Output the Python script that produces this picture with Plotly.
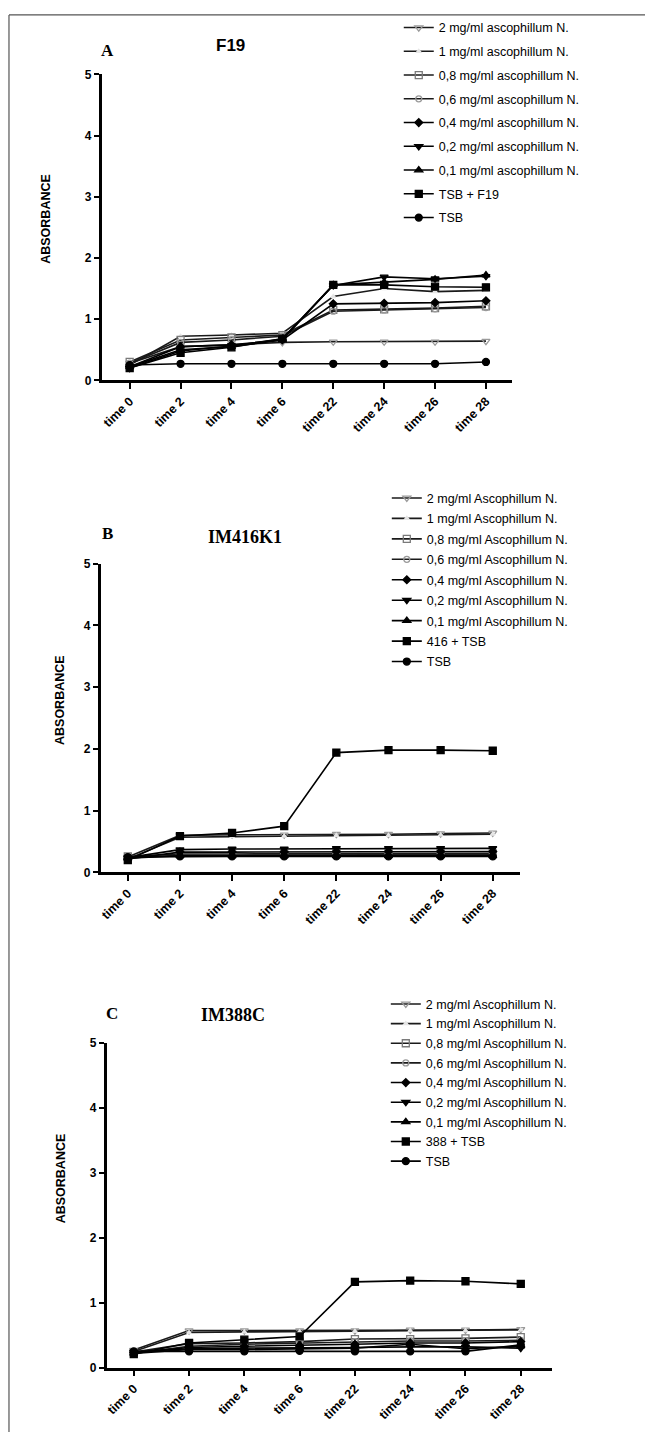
import plotly.graph_objects as go

W, H = 645, 1439

times = ["time 0", "time 2", "time 4", "time 6", "time 22", "time 24", "time 26", "time 28"]

# ---- Panel A : F19 ----
a_names = ["2 mg/ml ascophillum N.", "1 mg/ml ascophillum N.", "0,8 mg/ml ascophillum N.",
           "0,6 mg/ml ascophillum N.", "0,4 mg/ml ascophillum N.", "0,2 mg/ml ascophillum N.",
           "0,1 mg/ml ascophillum N.", "TSB + F19", "TSB"]
a_2mg = [0.28, 0.55, 0.58, 0.62, 0.63, 0.63, 0.63, 0.64]
a_1mg = [0.25, 0.72, 0.74, 0.77, 1.37, 1.50, 1.45, 1.47]
a_08 = [0.30, 0.66, 0.70, 0.74, 1.15, 1.16, 1.18, 1.21]
a_06 = [0.28, 0.62, 0.66, 0.72, 1.13, 1.15, 1.17, 1.19]
a_04 = [0.22, 0.55, 0.58, 0.66, 1.25, 1.26, 1.27, 1.30]
a_02 = [0.20, 0.48, 0.56, 0.68, 1.55, 1.69, 1.66, 1.70]
a_01 = [0.22, 0.50, 0.55, 0.66, 1.56, 1.60, 1.65, 1.72]
a_ctrl = [0.20, 0.45, 0.54, 0.68, 1.56, 1.56, 1.53, 1.52]
a_tsb = [0.25, 0.27, 0.27, 0.27, 0.27, 0.27, 0.27, 0.30]

# ---- Panel B : IM416K1 ----
b_names = ["2 mg/ml Ascophillum N.", "1 mg/ml Ascophillum N.", "0,8 mg/ml Ascophillum N.",
           "0,6 mg/ml Ascophillum N.", "0,4 mg/ml Ascophillum N.", "0,2 mg/ml Ascophillum N.",
           "0,1 mg/ml Ascophillum N.", "416 + TSB", "TSB"]
b_2mg = [0.25, 0.60, 0.61, 0.61, 0.62, 0.62, 0.63, 0.64]
b_1mg = [0.22, 0.57, 0.58, 0.59, 0.60, 0.60, 0.61, 0.62]
b_08 = [0.26, 0.30, 0.30, 0.30, 0.31, 0.31, 0.31, 0.31]
b_06 = [0.24, 0.28, 0.28, 0.28, 0.29, 0.29, 0.29, 0.29]
b_04 = [0.22, 0.33, 0.33, 0.33, 0.34, 0.34, 0.34, 0.34]
b_02 = [0.24, 0.37, 0.38, 0.38, 0.39, 0.39, 0.39, 0.39]
b_01 = [0.23, 0.27, 0.27, 0.27, 0.27, 0.27, 0.27, 0.27]
b_ctrl = [0.20, 0.59, 0.64, 0.75, 1.94, 1.98, 1.98, 1.97]
b_tsb = [0.25, 0.26, 0.26, 0.26, 0.26, 0.26, 0.26, 0.26]

# ---- Panel C : IM388C ----
c_names = ["2 mg/ml Ascophillum N.", "1 mg/ml Ascophillum N.", "0,8 mg/ml Ascophillum N.",
           "0,6 mg/ml Ascophillum N.", "0,4 mg/ml Ascophillum N.", "0,2 mg/ml Ascophillum N.",
           "0,1 mg/ml Ascophillum N.", "388 + TSB", "TSB"]
c_2mg = [0.27, 0.57, 0.57, 0.57, 0.57, 0.58, 0.58, 0.59]
c_1mg = [0.25, 0.54, 0.55, 0.55, 0.56, 0.57, 0.57, 0.58]
c_08 = [0.24, 0.37, 0.38, 0.40, 0.44, 0.44, 0.45, 0.47]
c_06 = [0.22, 0.33, 0.36, 0.38, 0.40, 0.41, 0.41, 0.42]
c_04 = [0.23, 0.31, 0.33, 0.34, 0.36, 0.38, 0.38, 0.40]
c_02 = [0.24, 0.29, 0.30, 0.30, 0.31, 0.32, 0.32, 0.30]
c_01 = [0.22, 0.28, 0.28, 0.29, 0.30, 0.36, 0.29, 0.33]
c_ctrl = [0.21, 0.38, 0.43, 0.48, 1.32, 1.34, 1.33, 1.29]
c_tsb = [0.25, 0.25, 0.25, 0.26, 0.25, 0.25, 0.25, 0.35]

# marker styles per series (same order in every panel)
styles = [
    dict(symbol="triangle-down-open", color="#9a9a9a", size=7, line="#1a1a1a"),
    dict(symbol="triangle-up", color="#e6e6e6", size=4, line="#1a1a1a"),
    dict(symbol="square-open", color="#7a7a7a", size=7, line="#1a1a1a"),
    dict(symbol="circle-open", color="#9a9a9a", size=6, line="#1a1a1a"),
    dict(symbol="diamond", color="#000000", size=6, line="#000000"),
    dict(symbol="triangle-down", color="#000000", size=7, line="#000000"),
    dict(symbol="triangle-up", color="#000000", size=7, line="#000000"),
    dict(symbol="square", color="#000000", size=7, line="#000000"),
    dict(symbol="circle", color="#000000", size=7, line="#000000"),
]

panels = [
    dict(names=a_names, series=[a_2mg, a_1mg, a_08, a_06, a_04, a_02, a_01, a_ctrl, a_tsb],
         xdom=(100, 512), ybot=377, ytop=68, xr=(-0.55, 7.52), legend="legend"),
    dict(names=b_names, series=[b_2mg, b_1mg, b_08, b_06, b_04, b_02, b_01, b_ctrl, b_tsb],
         xdom=(99, 520), ybot=874, ytop=562, xr=(-0.52, 7.53), legend="legend2"),
    dict(names=c_names, series=[c_2mg, c_1mg, c_08, c_06, c_04, c_02, c_01, c_ctrl, c_tsb],
         xdom=(105, 552), ybot=1374, ytop=1046, xr=(-0.49, 7.57), legend="legend3"),
]

fig = go.Figure()
font_sans = "Liberation Sans, Arial, sans-serif"
font_serif = "Liberation Serif, Times New Roman, serif"

for i, p in enumerate(panels):
    xa = "x" if i == 0 else f"x{i+1}"
    ya = "y" if i == 0 else f"y{i+1}"
    for k, (name, vals, st) in enumerate(zip(p["names"], p["series"], styles)):
        fig.add_trace(go.Scatter(
            x=times, y=vals, name=name, mode="lines+markers",
            xaxis=xa, yaxis=ya, legend=p["legend"], legendgroup=f"p{i}s{k}",
            line=dict(color=st["line"], width=1.6),
            marker=dict(symbol=st["symbol"], color=st["color"], size=st["size"],
                        line=dict(color=st["color"], width=1.3)),
        ))
    axkey = "xaxis" if i == 0 else f"xaxis{i+1}"
    aykey = "yaxis" if i == 0 else f"yaxis{i+1}"
    fig.update_layout(**{
        axkey: dict(domain=[p["xdom"][0] / W, p["xdom"][1] / W], anchor=ya,
                    type="category", categoryorder="array", categoryarray=times,
                    range=list(p["xr"]), showline=True, linecolor="black", linewidth=2.5,
                    ticks="outside", ticklen=6, tickwidth=2, tickcolor="black",
                    tickangle=-45, showgrid=False, zeroline=False,
                    tickfont=dict(family=font_sans, size=12.5, color="black", weight="bold")),
        aykey: dict(domain=[1 - p["ybot"] / H, 1 - p["ytop"] / H], anchor=xa,
                    range=[0, 5], dtick=1, showline=True, linecolor="black", linewidth=2.5,
                    ticks="outside", ticklen=5, tickwidth=2, tickcolor="black",
                    showgrid=False, zeroline=False,
                    tickfont=dict(family=font_sans, size=12, color="black", weight="bold")),
    })

leg_common = dict(xanchor="left", yanchor="top", bgcolor="rgba(0,0,0,0)",
                  font=dict(family=font_sans, size=12.5, color="black"),
                  itemwidth=30, borderwidth=0)
fig.update_layout(
    legend=dict(x=398 / W, y=1 - 6 / H, tracegroupgap=4.5, **leg_common),
    legend2=dict(x=386 / W, y=1 - 481 / H, tracegroupgap=1.2, **leg_common),
    legend3=dict(x=385 / W, y=1 - 992 / H, tracegroupgap=0.4, **leg_common),
)

annotations = [
    # panel letters / titles
    dict(text="<b>A</b>", x=106 / W, y=1 - 44 / H, font=dict(family=font_serif, size=17)),
    dict(text="<b>F19</b>", x=229 / W, y=1 - 39 / H, font=dict(family=font_sans, size=17)),
    dict(text="<b>B</b>", x=106 / W, y=1 - 532 / H, font=dict(family=font_serif, size=17)),
    dict(text="<b>IM416K1</b>", x=244 / W, y=1 - 535 / H, font=dict(family=font_serif, size=18)),
    dict(text="<b>C</b>", x=110 / W, y=1 - 1016 / H, font=dict(family=font_serif, size=17)),
    dict(text="<b>IM388C</b>", x=232 / W, y=1 - 1018 / H, font=dict(family=font_serif, size=18)),
    # y-axis titles
    dict(text="<b>ABSORBANCE</b>", x=44 / W, y=1 - 214 / H, textangle=-90,
         font=dict(family=font_sans, size=12.5)),
    dict(text="<b>ABSORBANCE</b>", x=58 / W, y=1 - 700 / H, textangle=-90,
         font=dict(family=font_sans, size=12.5)),
    dict(text="<b>ABSORBANCE</b>", x=60 / W, y=1 - 1183 / H, textangle=-90,
         font=dict(family=font_sans, size=12.5)),
]
for a in annotations:
    a.update(xref="paper", yref="paper", showarrow=False, xanchor="center", yanchor="middle")
    a["font"]["color"] = "black"
fig.update_layout(annotations=annotations)

# page frame (left and top edges visible)
frame = dict(type="line", xref="paper", yref="paper", line=dict(color="#555555", width=1.2))
fig.add_shape(x0=7 / W, x1=7 / W, y0=0, y1=1 - 8 / H, **frame)
fig.add_shape(x0=7 / W, x1=1, y0=1 - 8 / H, y1=1 - 8 / H, **frame)

fig.update_layout(
    width=W, height=H, margin=dict(l=0, r=0, t=0, b=0),
    paper_bgcolor="white", plot_bgcolor="white", showlegend=True,
)

fig.write_html(
    "out.html",
    config={"displayModeBar": False},
    post_script="document.body.style.margin='0';document.body.style.overflow='hidden';",
)
